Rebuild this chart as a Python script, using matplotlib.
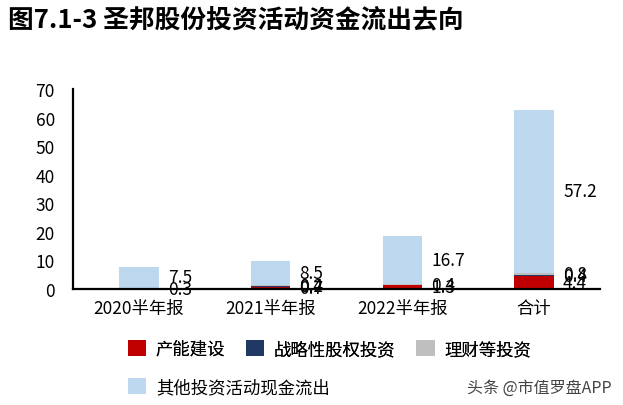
import matplotlib
matplotlib.use("Agg")
import matplotlib.pyplot as plt
import numpy as np
from matplotlib.patches import Patch

plt.rcParams['font.family'] = ['Noto Sans CJK SC', 'DejaVu Sans']

categories = ["2020半年报", "2021半年报", "2022半年报", "合计"]
series_names = ["产能建设", "战略性股权投资", "理财等投资", "其他投资活动现金流出"]
capacity = [0.3, 0.7, 1.3, 4.4]
strategic = [0.0, 0.4, 0.0, 0.4]
wealth = [0.0, 0.2, 0.4, 0.8]
other = [7.5, 8.5, 16.7, 57.2]
colors = ["#C00000", "#203864", "#BFBFBF", "#BDD7EE"]

fig = plt.figure(figsize=(6.23, 4.06), dpi=100)
ax = fig.add_axes([73/623, 1-290/406, (600-73)/623, (290-90)/406])

x = np.arange(len(categories))
width = 0.3
bottom = np.zeros(len(categories))
for vals, col in zip([capacity, strategic, wealth, other], colors):
    vals = np.array(vals, dtype=float)
    ax.bar(x, vals, width, bottom=bottom, color=col, zorder=2)
    for i, v in enumerate(vals):
        if v > 0:
            ax.text(x[i] + 0.22, bottom[i] + v/2, f"{v:.1f}", ha='left', va='center',
                    fontsize=12.5, color='black', zorder=3)
    bottom += vals

ax.set_xlim(-0.5, 3.5)
ax.set_ylim(0, 70)
ax.set_yticks(range(0, 71, 10))
ax.set_xticks(x)
ax.set_xticklabels(categories)
ax.tick_params(axis='y', length=0, pad=13, labelsize=12.5)
ax.tick_params(axis='x', length=0, pad=7, labelsize=12.5)
for s in ['top', 'right']:
    ax.spines[s].set_visible(False)
ax.spines['left'].set_linewidth(1.6)
ax.spines['bottom'].set_linewidth(1.6)

fig.text(8/623, 1-20/406, "图7.1-3 圣邦股份投资活动资金流出去向", fontsize=18.5, fontweight='bold',
         ha='left', va='center')

handles = [Patch(facecolor=c, edgecolor='none') for c in colors]
kw = dict(frameon=False, fontsize=12.5, handlelength=1.05, handleheight=1.05,
          handletextpad=0.55, columnspacing=1.2, borderpad=0, borderaxespad=0)
leg1 = fig.legend(handles[:3], series_names[:3], ncol=3, loc='center left',
                  bbox_to_anchor=(128/623, 1-350/406), **kw)
leg2 = fig.legend(handles[3:], series_names[3:], ncol=1, loc='center left',
                  bbox_to_anchor=(128/623, 1-388/406), **kw)
fig.add_artist(leg1)

fig.text(612/623, 1-388/406, "头条 @市值罗盘APP", fontsize=11.5, color='#444444',
         ha='right', va='center')

fig.savefig("out.png", dpi=100)
